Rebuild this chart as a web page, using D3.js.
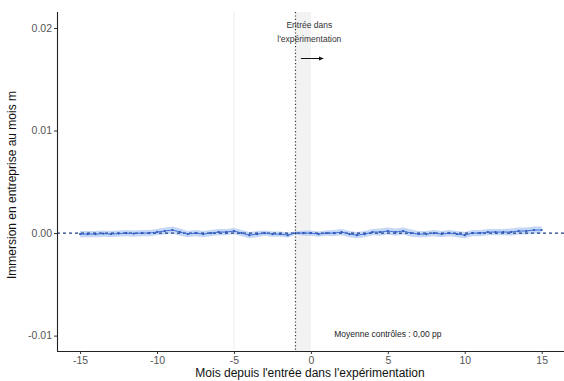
<!DOCTYPE html>
<html><head><meta charset="utf-8">
<script src="https://cdn.jsdelivr.net/npm/d3@7"></script>
<style>body{margin:0;background:#fff}svg{display:block}</style>
</head><body>
<svg id="c" width="564" height="381"></svg>
<script>
const months = [-15,-14.5,-14,-13.5,-13,-12.5,-12,-11.5,-11,-10.5,-10,-9.5,-9,-8.5,-8,-7.5,-7,-6.5,-6,-5.5,-5,-4.5,-4,-3.5,-3,-2.5,-2,-1.5,-1,-0.5,0,0.5,1,1.5,2,2.5,3,3.5,4,4.5,5,5.5,6,6.5,7,7.5,8,8.5,9,9.5,10,10.5,11,11.5,12,12.5,13,13.5,14,14.5,15];
const effect = [-0.0001,-0.0001,-0.0001,-0.00005,-0.0001,-0.00005,0,-0.00005,0,0,0.0001,0.0002,0.0003,0.0001,-0.0001,0,-0.0001,0,0.0001,0.0001,0.0002,0,-0.0002,-0.0001,0,-0.0001,-0.0001,-0.0002,0,0,0,-0.0001,0,0,0.0001,-0.0001,-0.0002,-0.0001,0.0001,0.0001,0.0002,0.0001,0.0002,0,-0.0001,-0.0001,0,-0.0001,0,-0.0001,-0.0002,0,0,0.0001,0.0001,0.0001,0.0001,0.0002,0.0002,0.0003,0.0003];
const ciHalf = [0.0003,0.0003,0.0003,0.0003,0.0003,0.0003,0.0003,0.0003,0.0003,0.0003,0.0003,0.00035,0.00035,0.00035,0.0003,0.0003,0.0003,0.0003,0.0003,0.0003,0.0003,0.0003,0.0003,0.0003,0.00025,0.00025,0.00025,0.00025,0.00015,0.00025,0.00025,0.00025,0.00025,0.0003,0.0003,0.0003,0.0003,0.0003,0.0003,0.00035,0.00035,0.00035,0.00035,0.00035,0.0003,0.0003,0.0003,0.0003,0.0003,0.0003,0.0003,0.0003,0.0003,0.0003,0.0003,0.0003,0.00035,0.00035,0.00035,0.00035,0.00035];
const yTicks = [-0.01, 0, 0.01, 0.02];
const yTickLabels = ["-0.01","0.00","0.01","0.02"];
const xTicks = [-15,-10,-5,0,5,10,15];
const treatStart = -1, treatEnd = 0;
const controlMean = 0.00;

const svg = d3.select("#c");
const L = 57, R = 564, T = 12, B = 351;
const x = d3.scaleLinear().domain([-16.5, 16.45]).range([L, R]);
const y = d3.scaleLinear().domain([-0.0115, 0.02156]).range([B, T]);
const font = "'Liberation Sans', Arial, sans-serif";
const data = months.map((m,i)=>({m, v: effect[i], lo: effect[i]-ciHalf[i], hi: effect[i]+ciHalf[i]}));

svg.append("line").attr("x1",x(-5)).attr("x2",x(-5)).attr("y1",T).attr("y2",B)
  .attr("stroke","#f0f0f0").attr("stroke-width",1.2);
svg.append("rect").attr("x",x(treatStart)).attr("y",T).attr("width",x(treatEnd)-x(treatStart)).attr("height",B-T)
  .attr("fill","#f2f2f2");

svg.append("path").datum(data)
  .attr("d", d3.area().x(d=>x(d.m)).y0(d=>y(d.lo)).y1(d=>y(d.hi)))
  .attr("fill","#9dbcf2").attr("opacity",0.6);
svg.append("line").attr("x1",L).attr("x2",R).attr("y1",y(controlMean)).attr("y2",y(controlMean))
  .attr("stroke","#1d3f86").attr("stroke-width",1.2).attr("stroke-dasharray","3,3");
svg.append("path").datum(data)
  .attr("d", d3.line().x(d=>x(d.m)).y(d=>y(d.v)))
  .attr("fill","none").attr("stroke","#3f6fd6").attr("stroke-width",1);
svg.append("g").selectAll("circle").data(data).join("circle")
  .attr("cx",d=>x(d.m)).attr("cy",d=>y(d.v)).attr("r",1.1).attr("fill","#2f55b5");

svg.append("line").attr("x1",x(treatStart)).attr("x2",x(treatStart)).attr("y1",T).attr("y2",B)
  .attr("stroke","#333").attr("stroke-width",1.2).attr("stroke-dasharray","1.2,2.2");

const ann = svg.append("g").attr("font-family",font).attr("font-size",8.5).attr("fill","#333").attr("text-anchor","middle");
ann.append("text").attr("x",x(-0.1)).attr("y",28).text("Entrée dans");
ann.append("text").attr("x",x(-0.1)).attr("y",42).text("l'expérimentation");
svg.append("defs").append("marker").attr("id","ar").attr("viewBox","0 0 10 10").attr("refX",9).attr("refY",5)
  .attr("markerWidth",5).attr("markerHeight",5).attr("orient","auto")
  .append("path").attr("d","M0,1L10,5L0,9Z").attr("fill","#111");
svg.append("line").attr("x1",x(-0.65)).attr("x2",x(0.8)).attr("y1",58.5).attr("y2",58.5)
  .attr("stroke","#111").attr("stroke-width",1).attr("marker-end","url(#ar)");

svg.append("text").attr("x",x(5)).attr("y",y(-0.0098)+3).attr("font-family",font).attr("font-size",8.5)
  .attr("fill","#222").attr("text-anchor","middle").text("Moyenne contrôles : 0,00 pp");

const xa = svg.append("g").attr("transform",`translate(0,${B})`)
  .call(d3.axisBottom(x).tickValues(xTicks).tickSize(3).tickPadding(3).tickFormat(d=>String(d)));
const ya = svg.append("g").attr("transform",`translate(${L},0)`)
  .call(d3.axisLeft(y).tickValues(yTicks).tickSize(3).tickPadding(2).tickFormat((d,i)=>yTickLabels[i]));
[xa,ya].forEach(a=>{
  a.select(".domain").attr("stroke","#222").attr("stroke-width",1.1);
  a.selectAll(".tick line").attr("stroke","#333");
  a.selectAll("text").attr("font-family",font).attr("font-size",10.5).attr("fill","#555");
});
xa.select(".domain").attr("d",`M${L},0.5H${R}`);
ya.select(".domain").attr("d",`M0.5,${T}V${B}`);

svg.append("text").attr("x",310).attr("y",377).attr("text-anchor","middle").attr("font-family",font)
  .attr("font-size",12).attr("fill","#111").text("Mois depuis l'entrée dans l'expérimentation");
svg.append("text").attr("transform","translate(16,185) rotate(-90)").attr("text-anchor","middle").attr("font-family",font)
  .attr("font-size",12).attr("fill","#111").text("Immersion en entreprise au mois m");
</script>
</body></html>
